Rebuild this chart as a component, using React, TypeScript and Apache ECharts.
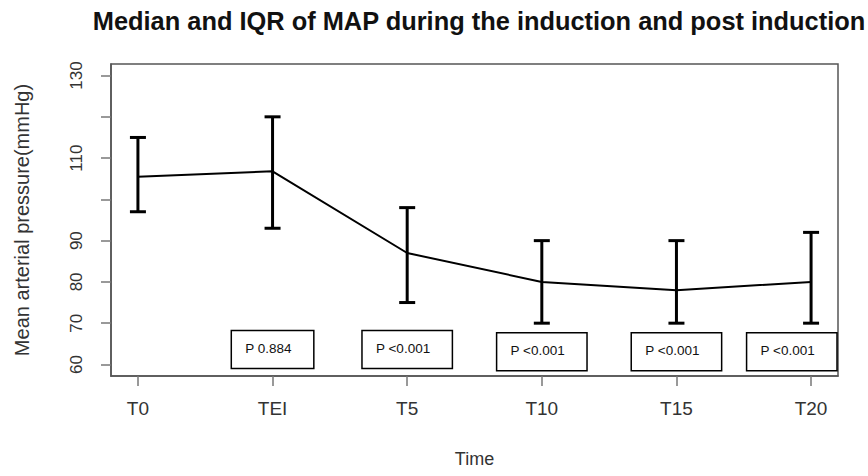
import React, { useEffect, useRef } from "react";
import * as echarts from "echarts";

const categories = ["T0", "TEI", "T5", "T10", "T15", "T20"];
const medians = [105.5, 106.8, 87, 80, 78, 80];
const q1 = [97, 93, 75, 70, 70, 70];
const q3 = [115, 120, 98, 90, 90, 92];
const pValues = ["P 0.884", "P <0.001", "P <0.001", "P <0.001", "P <0.001"];
const yTicks = [60, 70, 80, 90, 100, 110, 120, 130];
const yLabels = [60, 70, 80, 90, 110, 130];

// layout (not data): vertical anchor of the p-value boxes, in axis units
const pBoxY = [63.6, 63.6, 63.1, 63.1, 63.1];

const FONT = "'Liberation Sans', Arial, sans-serif";

function measure(text: string, size: number) {
  const c = document.createElement("canvas").getContext("2d");
  if (!c) return text.length * size * 0.5;
  c.font = `${size}px ${FONT}`;
  return c.measureText(text).width;
}

export default function App() {
  const ref = useRef<HTMLDivElement>(null);
  useEffect(() => {
    document.body.style.margin = "0";
    if (!ref.current) return;
    const chart = echarts.init(ref.current, null, { renderer: "svg" });
    const idx = categories.map((_, i) => i);
    chart.setOption({
      animation: false,
      backgroundColor: "#fff",
      title: {
        text: "Median and IQR of MAP during the induction and post induction",
        left: 474,
        textAlign: "center",
        top: 3,
        textStyle: { fontFamily: FONT, fontSize: 25.4, fontWeight: "bold", color: "#111" },
      },
      grid: {
        left: 111,
        top: 64,
        width: 727,
        height: 312,
        show: true,
        borderColor: "#555",
        borderWidth: 1.5,
        backgroundColor: "transparent",
      },
      xAxis: {
        type: "value",
        min: -0.2,
        max: 5.2,
        name: "Time",
        nameLocation: "middle",
        nameGap: 74,
        nameTextStyle: { fontFamily: FONT, fontSize: 18, color: "#333" },
        axisLine: { show: true, onZero: false, lineStyle: { color: "#555", width: 1.5 } },
        axisTick: { show: true, customValues: idx, length: 10, lineStyle: { color: "#777", width: 1.5 } },
        axisLabel: {
          customValues: idx,
          formatter: (v: number) => categories[Math.round(v)] ?? "",
          margin: 23,
          fontFamily: FONT,
          fontSize: 19,
          color: "#333",
        },
        splitLine: { show: false },
      },
      yAxis: {
        type: "value",
        min: 57.2,
        max: 132.8,
        name: "Mean arterial pressure(mmHg)",
        nameLocation: "middle",
        nameRotate: 90,
        nameGap: 79,
        nameTextStyle: { fontFamily: FONT, fontSize: 20, color: "#333" },
        axisLine: { show: true, onZero: false, lineStyle: { color: "#555", width: 1.5 } },
        axisTick: { show: true, customValues: yTicks, length: 10, lineStyle: { color: "#777", width: 1.5 } },
        axisLabel: {
          customValues: yLabels,
          rotate: 90,
          margin: 26,
          fontFamily: FONT,
          fontSize: 17,
          color: "#333",
        },
        splitLine: { show: false },
      },
      series: [
        {
          type: "line",
          data: medians.map((m, i) => [i, m]),
          symbol: "none",
          lineStyle: { color: "#000", width: 2 },
          z: 3,
        },
        {
          type: "custom",
          data: medians.map((_, i) => [i, q1[i], q3[i]]),
          renderItem: (params: any, api: any) => {
            const x = api.value(0);
            const lo = api.coord([x, api.value(1)]);
            const hi = api.coord([x, api.value(2)]);
            const hw = 8;
            const style = { stroke: "#000", lineWidth: 3 };
            return {
              type: "group",
              children: [
                { type: "line", shape: { x1: lo[0], y1: lo[1], x2: hi[0], y2: hi[1] }, style },
                { type: "line", shape: { x1: lo[0] - hw, y1: lo[1], x2: lo[0] + hw, y2: lo[1] }, style },
                { type: "line", shape: { x1: hi[0] - hw, y1: hi[1], x2: hi[0] + hw, y2: hi[1] }, style },
              ],
            };
          },
          z: 4,
        },
        {
          type: "custom",
          data: pValues.map((_, i) => [i + 1, pBoxY[i]]),
          renderItem: (params: any, api: any) => {
            const label = pValues[params.dataIndex];
            const [cx, cy] = api.coord([api.value(0), api.value(1)]);
            const fs = 13.5;
            const tw = measure(label, fs);
            const w = tw + 36;
            const h = 38;
            const right = params.coordSys.x + params.coordSys.width - 1;
            let left = cx - w / 2;
            if (left + w > right) left = right - w;
            return {
              type: "group",
              children: [
                {
                  type: "rect",
                  shape: { x: left, y: cy - h / 2, width: w, height: h },
                  style: { fill: "#fff", stroke: "#000", lineWidth: 1.5 },
                },
                {
                  type: "text",
                  x: left + 14,
                  y: cy - 1,
                  style: {
                    text: label,
                    fontFamily: FONT,
                    fontSize: fs,
                    fill: "#111",
                    textAlign: "left",
                    textVerticalAlign: "middle",
                  },
                },
              ],
            };
          },
          z: 5,
        },
      ],
    });
    return () => chart.dispose();
  }, []);
  return <div ref={ref} style={{ width: 868, height: 476 }} />;
}
